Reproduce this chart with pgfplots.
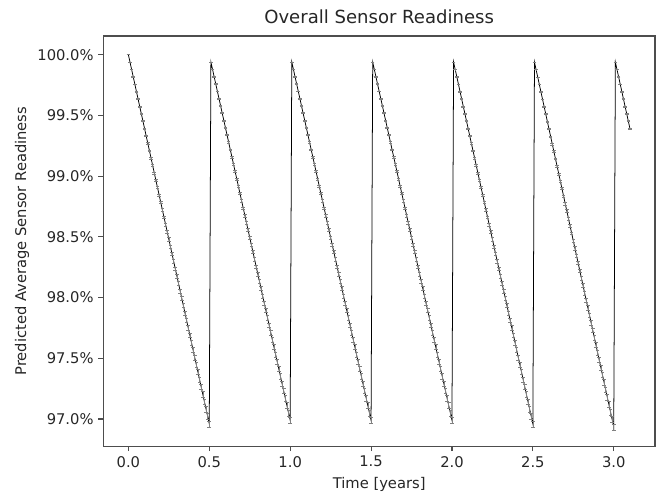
\documentclass[border=0pt]{standalone}
\usepackage{pgfplots}
\pgfplotsset{compat=1.18}
\usepackage{pgfplotstable}
\usepackage{fontspec}
\setmainfont{DejaVu Sans}
\definecolor{txt}{HTML}{262626}
\definecolor{spine}{HTML}{4D4D4D}

\pgfplotstableread{
x y e
0.00 100.000 0.0000
0.01 99.939 0.0005
0.02 99.878 0.0010
0.03 99.818 0.0015
0.04 99.757 0.0020
0.05 99.696 0.0025
0.06 99.635 0.0030
0.07 99.574 0.0035
0.08 99.514 0.0040
0.09 99.453 0.0045
0.10 99.392 0.0050
0.11 99.331 0.0055
0.12 99.270 0.0060
0.13 99.210 0.0065
0.14 99.149 0.0070
0.15 99.088 0.0075
0.16 99.027 0.0080
0.17 98.966 0.0085
0.18 98.906 0.0090
0.19 98.845 0.0095
0.20 98.784 0.0100
0.21 98.723 0.0105
0.22 98.662 0.0110
0.23 98.602 0.0115
0.24 98.541 0.0120
0.25 98.480 0.0125
0.26 98.419 0.0130
0.27 98.358 0.0135
0.28 98.298 0.0140
0.29 98.237 0.0145
0.30 98.176 0.0150
0.31 98.115 0.0155
0.32 98.054 0.0160
0.33 97.994 0.0165
0.34 97.933 0.0170
0.35 97.872 0.0175
0.36 97.811 0.0180
0.37 97.750 0.0185
0.38 97.690 0.0190
0.39 97.629 0.0195
0.40 97.568 0.0200
0.41 97.507 0.0205
0.42 97.446 0.0210
0.43 97.386 0.0215
0.44 97.325 0.0220
0.45 97.264 0.0225
0.46 97.203 0.0230
0.47 97.142 0.0235
0.48 97.082 0.0240
0.49 97.021 0.0245
0.50 96.960 0.0250
0.51 99.940 0.0005
0.52 99.880 0.0010
0.53 99.819 0.0015
0.54 99.759 0.0020
0.55 99.699 0.0025
0.56 99.639 0.0030
0.57 99.579 0.0035
0.58 99.518 0.0040
0.59 99.458 0.0045
0.60 99.398 0.0050
0.61 99.338 0.0055
0.62 99.278 0.0060
0.63 99.217 0.0065
0.64 99.157 0.0070
0.65 99.097 0.0075
0.66 99.037 0.0080
0.67 98.977 0.0085
0.68 98.916 0.0090
0.69 98.856 0.0095
0.70 98.796 0.0100
0.71 98.736 0.0105
0.72 98.676 0.0110
0.73 98.615 0.0115
0.74 98.555 0.0120
0.75 98.495 0.0125
0.76 98.435 0.0130
0.77 98.375 0.0135
0.78 98.314 0.0140
0.79 98.254 0.0145
0.80 98.194 0.0150
0.81 98.134 0.0155
0.82 98.074 0.0160
0.83 98.013 0.0165
0.84 97.953 0.0170
0.85 97.893 0.0175
0.86 97.833 0.0180
0.87 97.773 0.0185
0.88 97.712 0.0190
0.89 97.652 0.0195
0.90 97.592 0.0200
0.91 97.532 0.0205
0.92 97.472 0.0210
0.93 97.411 0.0215
0.94 97.351 0.0220
0.95 97.291 0.0225
0.96 97.231 0.0230
0.97 97.171 0.0235
0.98 97.110 0.0240
0.99 97.050 0.0245
1.00 96.990 0.0250
1.01 99.940 0.0005
1.02 99.880 0.0010
1.03 99.819 0.0015
1.04 99.759 0.0020
1.05 99.699 0.0025
1.06 99.639 0.0030
1.07 99.579 0.0035
1.08 99.518 0.0040
1.09 99.458 0.0045
1.10 99.398 0.0050
1.11 99.338 0.0055
1.12 99.278 0.0060
1.13 99.217 0.0065
1.14 99.157 0.0070
1.15 99.097 0.0075
1.16 99.037 0.0080
1.17 98.977 0.0085
1.18 98.916 0.0090
1.19 98.856 0.0095
1.20 98.796 0.0100
1.21 98.736 0.0105
1.22 98.676 0.0110
1.23 98.615 0.0115
1.24 98.555 0.0120
1.25 98.495 0.0125
1.26 98.435 0.0130
1.27 98.375 0.0135
1.28 98.314 0.0140
1.29 98.254 0.0145
1.30 98.194 0.0150
1.31 98.134 0.0155
1.32 98.074 0.0160
1.33 98.013 0.0165
1.34 97.953 0.0170
1.35 97.893 0.0175
1.36 97.833 0.0180
1.37 97.773 0.0185
1.38 97.712 0.0190
1.39 97.652 0.0195
1.40 97.592 0.0200
1.41 97.532 0.0205
1.42 97.472 0.0210
1.43 97.411 0.0215
1.44 97.351 0.0220
1.45 97.291 0.0225
1.46 97.231 0.0230
1.47 97.171 0.0235
1.48 97.110 0.0240
1.49 97.050 0.0245
1.50 96.990 0.0250
1.51 99.940 0.0005
1.52 99.880 0.0010
1.53 99.819 0.0015
1.54 99.759 0.0020
1.55 99.699 0.0025
1.56 99.639 0.0030
1.57 99.579 0.0035
1.58 99.518 0.0040
1.59 99.458 0.0045
1.60 99.398 0.0050
1.61 99.338 0.0055
1.62 99.278 0.0060
1.63 99.217 0.0065
1.64 99.157 0.0070
1.65 99.097 0.0075
1.66 99.037 0.0080
1.67 98.977 0.0085
1.68 98.916 0.0090
1.69 98.856 0.0095
1.70 98.796 0.0100
1.71 98.736 0.0105
1.72 98.676 0.0110
1.73 98.615 0.0115
1.74 98.555 0.0120
1.75 98.495 0.0125
1.76 98.435 0.0130
1.77 98.375 0.0135
1.78 98.314 0.0140
1.79 98.254 0.0145
1.80 98.194 0.0150
1.81 98.134 0.0155
1.82 98.074 0.0160
1.83 98.013 0.0165
1.84 97.953 0.0170
1.85 97.893 0.0175
1.86 97.833 0.0180
1.87 97.773 0.0185
1.88 97.712 0.0190
1.89 97.652 0.0195
1.90 97.592 0.0200
1.91 97.532 0.0205
1.92 97.472 0.0210
1.93 97.411 0.0215
1.94 97.351 0.0220
1.95 97.291 0.0225
1.96 97.231 0.0230
1.97 97.171 0.0235
1.98 97.110 0.0240
1.99 97.050 0.0245
2.00 96.990 0.0250
2.01 99.939 0.0005
2.02 99.878 0.0010
2.03 99.818 0.0015
2.04 99.757 0.0020
2.05 99.696 0.0025
2.06 99.635 0.0030
2.07 99.574 0.0035
2.08 99.514 0.0040
2.09 99.453 0.0045
2.10 99.392 0.0050
2.11 99.331 0.0055
2.12 99.270 0.0060
2.13 99.210 0.0065
2.14 99.149 0.0070
2.15 99.088 0.0075
2.16 99.027 0.0080
2.17 98.966 0.0085
2.18 98.906 0.0090
2.19 98.845 0.0095
2.20 98.784 0.0100
2.21 98.723 0.0105
2.22 98.662 0.0110
2.23 98.602 0.0115
2.24 98.541 0.0120
2.25 98.480 0.0125
2.26 98.419 0.0130
2.27 98.358 0.0135
2.28 98.298 0.0140
2.29 98.237 0.0145
2.30 98.176 0.0150
2.31 98.115 0.0155
2.32 98.054 0.0160
2.33 97.994 0.0165
2.34 97.933 0.0170
2.35 97.872 0.0175
2.36 97.811 0.0180
2.37 97.750 0.0185
2.38 97.690 0.0190
2.39 97.629 0.0195
2.40 97.568 0.0200
2.41 97.507 0.0205
2.42 97.446 0.0210
2.43 97.386 0.0215
2.44 97.325 0.0220
2.45 97.264 0.0225
2.46 97.203 0.0230
2.47 97.142 0.0235
2.48 97.082 0.0240
2.49 97.021 0.0245
2.50 96.960 0.0250
2.51 99.939 0.0005
2.52 99.877 0.0010
2.53 99.816 0.0015
2.54 99.755 0.0020
2.55 99.693 0.0025
2.56 99.632 0.0030
2.57 99.571 0.0035
2.58 99.510 0.0040
2.59 99.448 0.0045
2.60 99.387 0.0050
2.61 99.326 0.0055
2.62 99.264 0.0060
2.63 99.203 0.0065
2.64 99.142 0.0070
2.65 99.081 0.0075
2.66 99.019 0.0080
2.67 98.958 0.0085
2.68 98.897 0.0090
2.69 98.835 0.0095
2.70 98.774 0.0100
2.71 98.713 0.0105
2.72 98.651 0.0110
2.73 98.590 0.0115
2.74 98.529 0.0120
2.75 98.468 0.0125
2.76 98.406 0.0130
2.77 98.345 0.0135
2.78 98.284 0.0140
2.79 98.222 0.0145
2.80 98.161 0.0150
2.81 98.100 0.0155
2.82 98.038 0.0160
2.83 97.977 0.0165
2.84 97.916 0.0170
2.85 97.855 0.0175
2.86 97.793 0.0180
2.87 97.732 0.0185
2.88 97.671 0.0190
2.89 97.609 0.0195
2.90 97.548 0.0200
2.91 97.487 0.0205
2.92 97.425 0.0210
2.93 97.364 0.0215
2.94 97.303 0.0220
2.95 97.242 0.0225
2.96 97.180 0.0230
2.97 97.119 0.0235
2.98 97.058 0.0240
2.99 96.996 0.0245
3.00 96.935 0.0250
3.01 99.939 0.0005
3.02 99.878 0.0010
3.03 99.818 0.0015
3.04 99.757 0.0020
3.05 99.696 0.0025
3.06 99.635 0.0030
3.07 99.574 0.0035
3.08 99.514 0.0040
3.09 99.453 0.0045
3.10 99.392 0.0050
}\readiness

\begin{document}
\begin{tikzpicture}
\path[use as bounding box] (-74.38pt,-34.34pt) rectangle (403.70pt,321.34pt);
\begin{axis}[
  scale only axis,
  width=397.22pt, height=295.42pt,
  xmin=-0.155, xmax=3.255,
  ymin=96.775, ymax=100.154,
  xtick={0,0.5,1,1.5,2,2.5,3},
  ytick={97,97.5,98,98.5,99,99.5,100},
  xticklabel={\pgfmathprintnumber[fixed,fixed zerofill,precision=1]{\tick}},
  yticklabel={\pgfmathprintnumber[fixed,fixed zerofill,precision=1]{\tick}\%},
  /pgf/number format/assume math mode=true,
  tick pos=left,
  tick align=outside,
  major tick length=3.5pt,
  every tick/.style={spine, line width=0.8pt},
  axis line style={spine, line width=0.8pt},
  tick label style={font=\fontsize{10.6}{12.7}\selectfont, text=txt},
  label style={font=\fontsize{10.6}{12.7}\selectfont, text=txt},
  title={Overall Sensor Readiness},
  title style={font=\fontsize{13}{15.6}\selectfont, text=txt,
    at={(axis description cs:0.5,1.026)}, anchor=center, yshift=0pt},
  xlabel={Time [years]},
  xlabel style={at={(axis description cs:0.5,-0.094)}, anchor=center},
  ylabel={Predicted Average Sensor Readiness},
  ylabel style={at={(axis description cs:-0.1474,0.5)}, anchor=center},
]
\addplot[black, line width=0.55pt, mark=none,
  error bars/.cd, y dir=both, y explicit,
  error bar style={gray, line width=0.4pt},
  error mark options={gray, line width=0.4pt, mark size=1.3pt, rotate=90}]
  table[x=x, y=y, y error=e] {\readiness};
\end{axis}
\end{tikzpicture}
\end{document}
